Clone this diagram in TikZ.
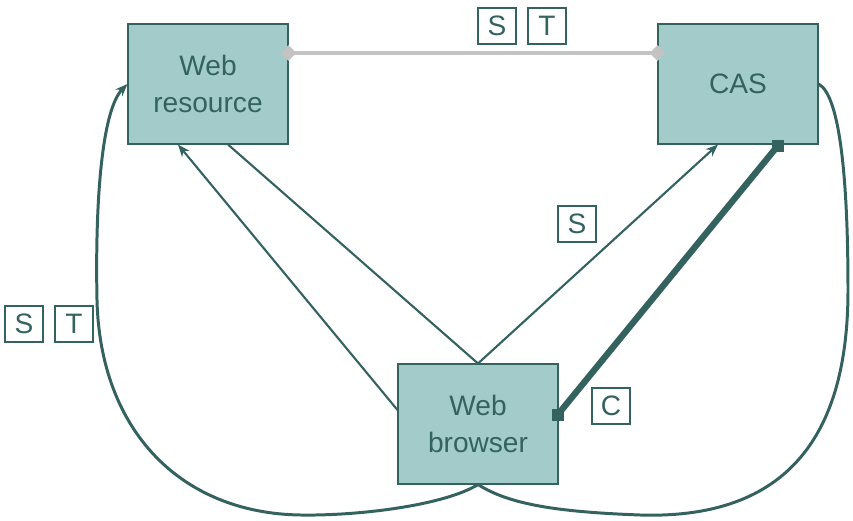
\documentclass[tikz,border=0pt]{standalone}
\usepackage{fontspec}
\setmainfont{Liberation Sans}
\usepackage{xcolor}
\usepackage{tikz}
\usetikzlibrary{arrows.meta, calc}
\definecolor{kteal}{HTML}{A3CBC9}
\definecolor{kdark}{HTML}{33625F}
\definecolor{kgrey}{HTML}{C3C3C3}

\begin{document}
\begin{tikzpicture}[x=0.02cm, y=0.02cm,
  party/.style={fill=kteal, draw=kdark, line width=0.6pt, minimum width=3.2cm,
    minimum height=2.4cm, align=center, text=kdark, font=\fontsize{16}{21}\selectfont},
  tag/.style={draw=kdark, line width=0.6pt, minimum width=0.76cm, minimum height=0.72cm,
    inner sep=0pt, text=kdark, font=\fontsize{16}{19}\selectfont},
  flow/.style={kdark, line width=1.2pt},
  tip/.style={-{Stealth[length=7pt, width=5.5pt]}}]
\useasboundingbox (0,0) rectangle (853,521);
% parties
\node[party] (resource) at (208,437) {Web\\resource};
\node[party] (cas) at (738,437) {CAS};
\node[party] (browser) at (478,97) {Web\\browser};
% token labels
\node[tag] (s1) at (497,495) {S};
\node[tag] (t1) at (547,495) {T};
\node[tag] (s2) at (577,297) {S};
\node[tag] (s3) at (24,197) {S};
\node[tag] (t3) at (74,197) {T};
\node[tag] (c1) at (611,115) {C};
% back channel
\draw[kgrey, line width=2.8pt, {Diamond[length=9pt, width=9pt]}-{Diamond[length=9pt, width=9pt]}]
  ($(resource.east)+(-8,31)$) -- ($(cas.west)+(8,31)$);
% straight connectors
\draw[flow, tip] ($(browser.west)+(0,14)$) -- ($(resource.south)+(-30,0)$);
\draw[flow] ($(resource.south)+(20,0)$) -- (browser.north);
\draw[flow, tip] (browser.north) -- ($(cas.south)+(-20,0)$);
\coordinate (cend) at ($(browser.east)+(-1,9)$);
\coordinate (ctop) at ($(cas.south)+(40,-1)$);
\draw[kdark, line width=3.6pt] (cend) -- (ctop);
\fill[kdark] (cend) +(-6,-6) rectangle +(6,6);
\fill[kdark] (ctop) +(-6,-6) rectangle +(6,6);
% redirect curves
\draw[flow, line width=1.7pt, tip] (browser.south) .. controls (445,16) and (360,5) .. (300,6)
  .. controls (180,8) and (100,91) .. (97,221)
  .. controls (95,321) and (102,411) .. (resource.west);
\draw[flow, line width=1.7pt] (browser.south) .. controls (510,16) and (560,9) .. (640,6)
  .. controls (800,1) and (848,101) .. (848,231)
  .. controls (848,341) and (840,426) .. (cas.east);
\end{tikzpicture}
\end{document}
